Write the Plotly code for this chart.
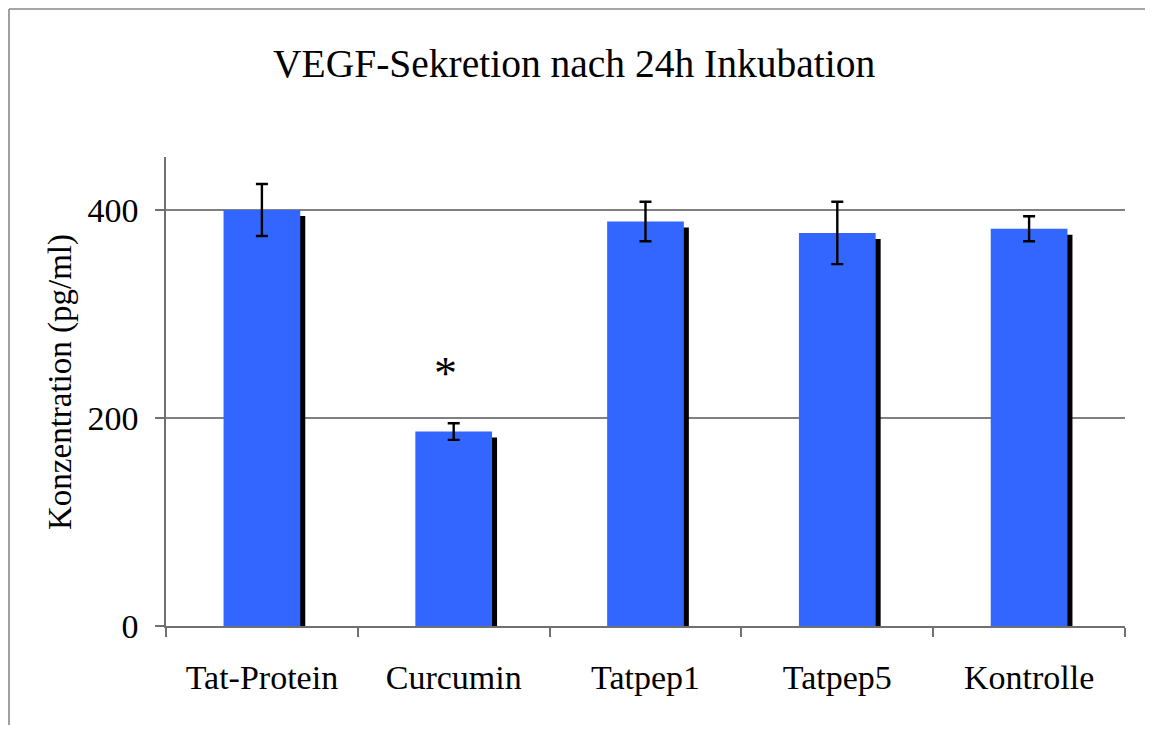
import plotly.graph_objects as go

categories = ["Tat-Protein", "Curcumin", "Tatpep1", "Tatpep5", "Kontrolle"]
values = [400, 187, 389, 378, 382]
errors = [25, 8, 19, 30, 12]
y_ticks = [0, 200, 400]
title_text = "VEGF-Sekretion nach 24h Inkubation"
y_label = "Konzentration (pg/ml)"
star_category = "Curcumin"
star_value = 248

# page offset (default body margin) compensation
O = 8
W, H = 1153 - 2 * O, 733 - 2 * O
L, T = 166 - O, 157 - O
R = W - (1125 - O)
B = H - (626 - O)
plot_w = W - L - R
plot_h = H - T - B
y_max = 451
px_per_unit = plot_h / y_max
cat_px = plot_w / len(categories)

bar_w = 0.40
shadow_dx = 5 / cat_px
shadow_dy = 6 / px_per_unit

serif = "Liberation Serif, Times New Roman, serif"
blue = "#3366FF"

fig = go.Figure()
fig.add_trace(go.Bar(
    x=categories, y=[v - shadow_dy for v in values],
    width=bar_w, offset=-bar_w / 2 + shadow_dx,
    marker=dict(color="black", line=dict(width=0)),
    hoverinfo="skip", showlegend=False,
))
fig.add_trace(go.Bar(
    x=categories, y=values,
    width=bar_w, offset=-bar_w / 2,
    marker=dict(color=blue, line=dict(width=0)),
    error_y=dict(type="data", array=errors, visible=True,
                 color="black", thickness=2.4, width=6),
    showlegend=False,
))

fig.update_layout(
    width=W, height=H,
    margin=dict(l=L, r=R, t=T, b=B, autoexpand=False),
    barmode="overlay",
    paper_bgcolor="white", plot_bgcolor="white",
    font=dict(family=serif, size=32, color="black"),
    showlegend=False,
)
fig.update_xaxes(
    type="category", range=[-0.5, len(categories) - 0.5],
    showline=True, linecolor="#707070", linewidth=1.6,
    ticks="outside", tickson="boundaries", ticklen=9, tickwidth=1.6, tickcolor="#707070",
    showgrid=False, zeroline=False,
    tickfont=dict(family=serif, size=34, color="black"),
    ticklabelstandoff=20,
)
fig.update_yaxes(
    range=[0, y_max], tickvals=y_ticks, ticktext=[str(t) for t in y_ticks],
    showline=True, linecolor="#707070", linewidth=1.6,
    ticks="outside", ticklen=9, tickwidth=1.6, tickcolor="#707070",
    showgrid=True, gridcolor="#808080", gridwidth=1.6,
    zeroline=False,
    tickfont=dict(family=serif, size=34, color="black"),
    ticklabelstandoff=10,
)

# outer frame (only left and top edges are visible in the reference)
fx0 = (1 - L) / plot_w
fy1 = (H - B - 1) / plot_h
fig.add_shape(type="line", xref="paper", yref="paper",
              x0=fx0, x1=fx0, y0=(H - B - H) / plot_h, y1=fy1,
              line=dict(color="#888888", width=1.6), layer="below")
fig.add_shape(type="line", xref="paper", yref="paper",
              x0=fx0, x1=(W - L) / plot_w, y0=fy1, y1=fy1,
              line=dict(color="#888888", width=1.6), layer="below")

# title
fig.add_annotation(text=title_text, xref="paper", yref="paper",
                   x=(574 - O - L) / plot_w, y=(H - B - (64 - O)) / plot_h,
                   xanchor="center", yanchor="middle", showarrow=False,
                   font=dict(family=serif, size=39.5, color="black"))
# y label
fig.add_annotation(text=y_label, xref="paper", yref="paper",
                   x=(60 - O - L) / plot_w, y=(H - B - (382 - O)) / plot_h,
                   xanchor="center", yanchor="middle", showarrow=False, textangle=-90,
                   font=dict(family=serif, size=33, color="black"))
# significance star
fig.add_annotation(text="*", x=star_category, y=star_value, xref="x", yref="y",
                   xshift=-8, yshift=-5, showarrow=False,
                   font=dict(family=serif, size=46, color="black"))

fig.write_html("out.html")
